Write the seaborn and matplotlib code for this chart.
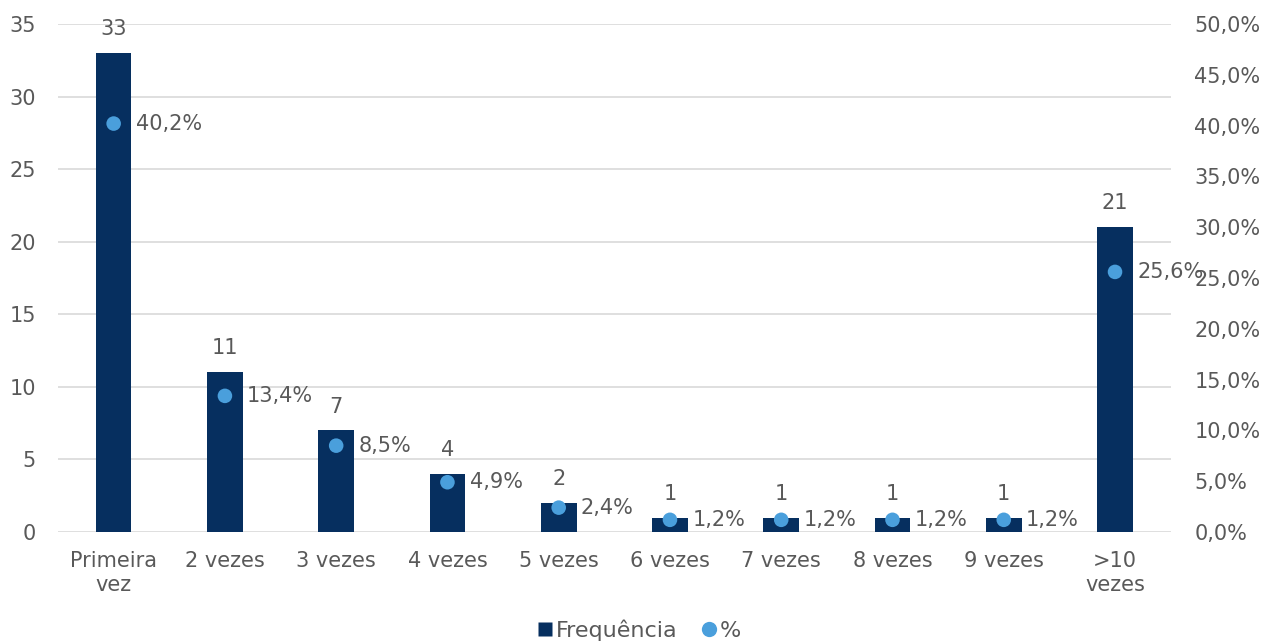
import matplotlib
matplotlib.use("Agg")
import matplotlib.pyplot as plt
import seaborn as sns
import pandas as pd
from matplotlib.lines import Line2D
from matplotlib.ticker import FuncFormatter, MultipleLocator

categories = ["Primeira\nvez", "2 vezes", "3 vezes", "4 vezes", "5 vezes",
              "6 vezes", "7 vezes", "8 vezes", "9 vezes", ">10\nvezes"]
frequencia = [33, 11, 7, 4, 2, 1, 1, 1, 1, 21]
percentual = [40.2, 13.4, 8.5, 4.9, 2.4, 1.2, 1.2, 1.2, 1.2, 25.6]

bar_color = "#062f5f"
dot_color = "#4a9fdc"
text_color = "#595959"
grid_color = "#d9d9d9"
fs = 15

sns.set_theme(style="white")
plt.rcParams["font.family"] = ["DejaVu Sans"]

df = pd.DataFrame({"cat": categories, "freq": frequencia, "pct": percentual})

fig = plt.figure(figsize=(12.78, 6.43), dpi=100)
ax = fig.add_axes([0.0454, 0.1726, 0.8706, 0.7901])

sns.barplot(data=df, x="cat", y="freq", color=bar_color, width=0.32,
            saturation=1, linewidth=0, ax=ax, zorder=2)
ax.set_ylim(0, 35)
ax.set_xlim(-0.5, len(categories) - 0.5)
ax.yaxis.set_major_locator(MultipleLocator(5))
ax.grid(axis="y", color=grid_color, linewidth=1.2, zorder=0)
ax.set_axisbelow(True)
ax.set_xlabel("")
ax.set_ylabel("")
for s in ax.spines.values():
    s.set_visible(False)
ax.tick_params(axis="both", length=0, labelsize=fs, colors=text_color)
ax.tick_params(axis="x", pad=14)
ax.tick_params(axis="y", pad=16)

for i, v in enumerate(frequencia):
    ax.annotate(str(v), (i, v), xytext=(0, 10), textcoords="offset points",
                ha="center", va="bottom", fontsize=fs, color=text_color)

ax2 = ax.twinx()
sns.scatterplot(data=df, x="cat", y="pct", color=dot_color, s=110,
                edgecolor="none", ax=ax2, zorder=3)
ax2.set_ylim(0, 50)
ax2.yaxis.set_major_locator(MultipleLocator(5))
ax2.yaxis.set_major_formatter(FuncFormatter(lambda v, p: f"{v:.1f}%".replace(".", ",")))
ax2.set_ylabel("")
for s in ax2.spines.values():
    s.set_visible(False)
ax2.tick_params(axis="y", length=0, labelsize=fs, colors=text_color, pad=17)

for i, v in enumerate(percentual):
    ax2.annotate(f"{v:.1f}%".replace(".", ","), (i, v), xytext=(16, 0),
                 textcoords="offset points", ha="left", va="center",
                 fontsize=fs, color=text_color)

handles = [
    Line2D([], [], marker="s", linestyle="none", markersize=10,
           markerfacecolor=bar_color, markeredgecolor="none", label="Frequência"),
    Line2D([], [], marker="o", linestyle="none", markersize=11,
           markerfacecolor=dot_color, markeredgecolor="none", label="%"),
]
fig.legend(handles=handles, loc="lower center", ncol=2, frameon=False,
           fontsize=16, labelcolor=text_color, bbox_to_anchor=(0.498, -0.028),
           handletextpad=-0.1, columnspacing=0.8, handlelength=1.2)

fig.savefig("out.png", dpi=100)
